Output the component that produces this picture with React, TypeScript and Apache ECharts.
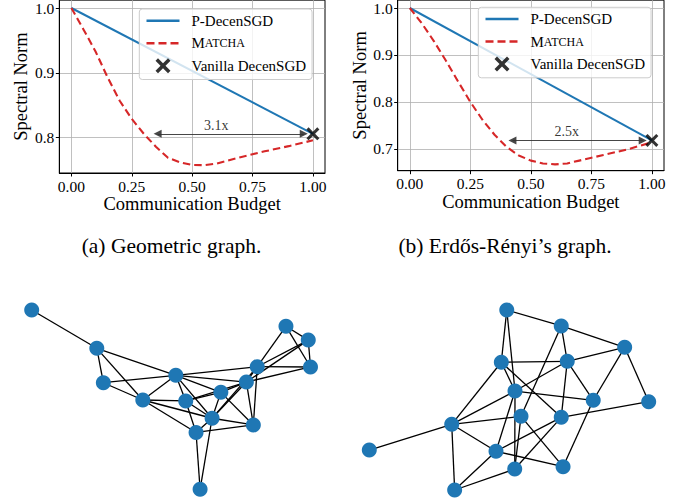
import React, { useEffect, useRef } from 'react';
import * as echarts from 'echarts';

// ---------- data ----------
const budgetTicks = [0, 0.25, 0.5, 0.75, 1.0];
const geoNormTicks = [0.8, 0.9, 1.0];
const erNormTicks = [0.7, 0.8, 0.9, 1.0];

const geoPdecenX = [0, 1];
const geoPdecenY = [1.0, 0.806];
const geoMatchaX = [0, 0.05, 0.1, 0.15, 0.2, 0.25, 0.3, 0.35, 0.4, 0.45, 0.5, 0.55, 0.6, 0.7, 0.8, 0.9, 1.0];
const geoMatchaY = [1.0, 0.967, 0.933, 0.893, 0.857, 0.829, 0.806, 0.786, 0.769, 0.762, 0.758, 0.7577, 0.76, 0.77, 0.779, 0.787, 0.796];
const geoVanilla = [1.0, 0.806];
const geoSpeedup = '3.1x';
const geoArrowX = [0.357, 0.962];
const geoArrowY = 0.806;
const geoLabelX = 0.6;

const erPdecenX = [0, 1];
const erPdecenY = [1.0, 0.718];
const erMatchaX = [0, 0.05, 0.1, 0.15, 0.2, 0.25, 0.3, 0.35, 0.4, 0.45, 0.5, 0.55, 0.6, 0.65, 0.7, 0.8, 0.9, 1.0];
const erMatchaY = [1.0, 0.967, 0.929, 0.887, 0.843, 0.8, 0.762, 0.73, 0.704, 0.686, 0.675, 0.669, 0.667, 0.669, 0.675, 0.687, 0.699, 0.714];
const erVanilla = [1.0, 0.718];
const erSpeedup = '2.5x';
const erArrowX = [0.424, 0.962];
const erArrowY = 0.718;
const erLabelX = 0.648;

// network layouts (layout units, y up)
const geoNodeX = [-1.0, -0.533, -0.486, -0.203, 0.034, 0.105, 0.357, 0.54, 0.618, 0.824, 0.984, 1.0, 0.294, 0.59, 0.179, 0.208];
const geoNodeY = [0.646, 0.371, 0.124, 0.0, 0.177, -0.007, 0.055, 0.129, 0.239, 0.529, 0.43, 0.237, -0.131, -0.179, -0.233, -0.641];
const geoEdges: [number, number][] = [
  [1, 2], [2, 3], [2, 4], [2, 5], [3, 4], [3, 5], [4, 5], [4, 6], [4, 13], [4, 15],
  [5, 6], [5, 7], [5, 8], [5, 9], [5, 13], [6, 7], [6, 8], [6, 13], [6, 15], [7, 8],
  [7, 13], [7, 14], [8, 9], [8, 11], [8, 12], [8, 13], [8, 14], [9, 10], [9, 11], [9, 12],
  [9, 13], [9, 14], [10, 11], [10, 12], [11, 12], [13, 14], [13, 15], [13, 16], [14, 15], [15, 16],
];

const erNodeX = [-0.016, 0.374, 0.828, -0.055, 0.417, 0.043, 0.603, 1.0, 0.086, 0.374, -0.41, -1.0, -0.093, 0.041, 0.387, -0.389];
const erNodeY = [0.644, 0.53, 0.377, 0.27, 0.277, 0.064, -0.002, -0.012, -0.117, -0.124, -0.174, -0.358, -0.367, -0.494, -0.477, -0.644];
const erEdges: [number, number][] = [
  [1, 2], [1, 4], [1, 6], [2, 3], [2, 5], [2, 9], [3, 5], [3, 7], [3, 8], [4, 5],
  [4, 6], [4, 10], [4, 11], [5, 6], [5, 7], [5, 10], [6, 7], [6, 11], [6, 13], [6, 14],
  [7, 15], [8, 10], [9, 11], [9, 14], [9, 15], [10, 13], [10, 14], [11, 12], [11, 13], [11, 16],
  [13, 15], [13, 16], [14, 16],
];

// ---------- styles ----------
const FONT = '"Liberation Serif", "DejaVu Serif", serif';
const X_MARK = 'path://M0,2L2,0L6,4L10,0L12,2L8,6L12,10L10,12L6,8L2,12L0,10L4,6Z';
const BLUE = '#1f77b4';
const RED = '#d62728';
const HIDDEN_ICON = { color: 'rgba(0,0,0,0)', borderColor: 'rgba(0,0,0,0)', borderWidth: 0, opacity: 0 };

const pairs = (xs: number[], ys: number[]) => xs.map((x, i) => [x, ys[i]]);

const makeXAxis = (gridIndex: number) => ({
  type: 'value', gridIndex, min: -0.05, max: 1.05,
  name: 'Communication Budget', nameLocation: 'middle', nameGap: 21,
  nameTextStyle: { fontFamily: FONT, fontSize: 18.5, color: '#000' },
  axisLine: { show: true, onZero: false, lineStyle: { color: '#000', width: 1 } },
  axisTick: { show: true, inside: false, length: 3.5, customValues: budgetTicks, lineStyle: { color: '#000', width: 1 } },
  axisLabel: { show: true, customValues: budgetTicks, formatter: (v: number) => v.toFixed(2), fontFamily: FONT, fontSize: 15.5, color: '#000', margin: 5 },
  splitLine: { show: true, lineStyle: { color: '#b0b0b0', width: 0.8 } },
});

const makeYAxis = (gridIndex: number, ticks: number[], min: number, max: number, gap: number) => ({
  type: 'value', gridIndex, min, max,
  name: 'Spectral Norm', nameLocation: 'middle', nameGap: gap,
  nameTextStyle: { fontFamily: FONT, fontSize: 18.5, color: '#000' },
  axisLine: { show: true, onZero: false, lineStyle: { color: '#000', width: 1 } },
  axisTick: { show: true, inside: false, length: 3.5, customValues: ticks, lineStyle: { color: '#000', width: 1 } },
  axisLabel: { show: true, customValues: ticks, formatter: (v: number) => v.toFixed(1), fontFamily: FONT, fontSize: 15.5, color: '#000', margin: 5 },
  splitLine: { show: true, lineStyle: { color: '#b0b0b0', width: 0.8 } },
});

const hiddenAxis = (gridIndex: number, min: number, max: number) => ({
  type: 'value', gridIndex, min, max, show: false,
  axisLine: { show: false }, axisTick: { show: false }, axisLabel: { show: false }, splitLine: { show: false },
});

const makeLegend = (left: number, top: number) => ({
  show: true, orient: 'vertical', left, top,
  data: [
    { name: 'P-DecenSGD', itemStyle: HIDDEN_ICON, lineStyle: { width: 2.4, color: BLUE } },
    { name: 'Matcha', itemStyle: HIDDEN_ICON, lineStyle: { width: 2.4, color: RED, type: [8, 4] } },
    { name: 'Vanilla DecenSGD', icon: X_MARK },
  ],
  itemWidth: 33, itemHeight: 15, itemGap: 7.5,
  padding: [4.2, 6, 6.3, 6],
  backgroundColor: 'rgba(255,255,255,0.8)', borderColor: '#cccccc', borderWidth: 1, borderRadius: 3,
  selectedMode: false,
  formatter: (n: string) => (n === 'Matcha' ? '{big|M}{small|ATCHA}' : n),
  textStyle: {
    fontFamily: FONT, fontSize: 15, color: '#000', padding: [0, 0, 0, 7],
    rich: {
      big: { fontFamily: FONT, fontSize: 15, color: '#000' },
      small: { fontFamily: FONT, fontSize: 12, color: '#000' },
    },
  },
});

const lineSeries = (idx: number, px: number[], py: number[], mx: number[], my: number[], van: number[], speed: string, ax: number[], ay: number, lx: number) => [
  {
    name: 'P-DecenSGD', type: 'line', xAxisIndex: idx, yAxisIndex: idx, data: pairs(px, py),
    symbol: 'none', lineStyle: { color: BLUE, width: 2 }, itemStyle: { color: BLUE }, z: 3,
  },
  {
    name: 'Matcha', type: 'line', xAxisIndex: idx, yAxisIndex: idx, data: pairs(mx, my),
    symbol: 'none', lineStyle: { color: RED, width: 2.1, type: [7.5, 4] }, itemStyle: { color: RED }, z: 3,
  },
  {
    name: 'Vanilla DecenSGD', type: 'scatter', xAxisIndex: idx, yAxisIndex: idx, data: [van],
    symbol: X_MARK, symbolSize: 13, itemStyle: { color: '#000' }, z: 5,
  },
  {
    name: 'annot' + idx, type: 'scatter', xAxisIndex: idx, yAxisIndex: idx, data: [[lx, ay]],
    symbol: 'circle', symbolSize: 1, z: 4, silent: true,
    itemStyle: { color: 'rgba(0,0,0,0)' },
    label: { show: true, position: 'top', distance: 1, formatter: speed, fontFamily: FONT, fontSize: 14, color: '#000' },
    markLine: {
      silent: true, animation: false,
      symbol: ['triangle', 'triangle'], symbolSize: [8, 8],
      lineStyle: { color: '#333', width: 1.2, type: 'solid', opacity: 0.9 },
      itemStyle: { color: '#333' },
      label: { show: false },
      data: [[{ coord: [ax[0], ay] }, { coord: [ax[1], ay] }]],
    },
  },
];

const graphSeries = (idx: number, nx: number[], ny: number[], edges: [number, number][]) => ({
  type: 'graph', coordinateSystem: 'cartesian2d', xAxisIndex: idx, yAxisIndex: idx,
  symbol: 'circle', symbolSize: 15, silent: true,
  data: pairs(nx, ny),
  links: edges.map(([s, t]) => ({ source: s - 1, target: t - 1 })),
  itemStyle: { color: BLUE, opacity: 1 },
  lineStyle: { color: '#000', width: 1.3, opacity: 1, curveness: 0 },
  label: { show: false },
  emphasis: { disabled: true },
});

export default function App() {
  const ref = useRef<HTMLDivElement>(null);
  useEffect(() => {
    if (!ref.current) return;
    const chart = echarts.init(ref.current, undefined, { renderer: 'svg' });
    const option: any = {
      animation: false,
      backgroundColor: '#fff',
      grid: [
        { left: 59.3, top: 0, width: 265.7, height: 173, show: true, borderColor: '#000', borderWidth: 1, containLabel: false },
        { left: 397.7, top: -1.9, width: 266.3, height: 172.6, show: true, borderColor: '#000', borderWidth: 1, containLabel: false },
        { left: 31.7, top: 310, width: 278.8, height: 179.3, containLabel: false },
        { left: 369.3, top: 310, width: 279.4, height: 180, containLabel: false },
      ],
      xAxis: [makeXAxis(0), makeXAxis(1), hiddenAxis(2, -1, 1), hiddenAxis(3, -1, 1)],
      yAxis: [
        makeYAxis(0, geoNormTicks, 0.7456, 1.0121, 29),
        makeYAxis(1, erNormTicks, 0.6535, 1.0167, 28),
        hiddenAxis(2, -0.641, 0.646),
        hiddenAxis(3, -0.644, 0.644),
      ],
      legend: [makeLegend(139.3, 9), makeLegend(478.3, 7.3)],
      series: [
        ...lineSeries(0, geoPdecenX, geoPdecenY, geoMatchaX, geoMatchaY, geoVanilla, geoSpeedup, geoArrowX, geoArrowY, geoLabelX),
        ...lineSeries(1, erPdecenX, erPdecenY, erMatchaX, erMatchaY, erVanilla, erSpeedup, erArrowX, erArrowY, erLabelX),
        graphSeries(2, geoNodeX, geoNodeY, geoEdges),
        graphSeries(3, erNodeX, erNodeY, erEdges),
      ],
      graphic: [
        { type: 'text', x: 171.5, y: 246, style: { text: '(a) Geometric graph.', font: `21.5px ${FONT}`, fill: '#000', textAlign: 'center', textVerticalAlign: 'middle' } },
        { type: 'text', x: 505, y: 246, style: { text: '(b) Erdős-Rényi’s graph.', font: `21.5px ${FONT}`, fill: '#000', textAlign: 'center', textVerticalAlign: 'middle' } },
      ],
    };
    chart.setOption(option);
    return () => chart.dispose();
  }, []);
  return <div ref={ref} style={{ position: 'fixed', left: 0, top: 0, width: 695, height: 503 }} />;
}
